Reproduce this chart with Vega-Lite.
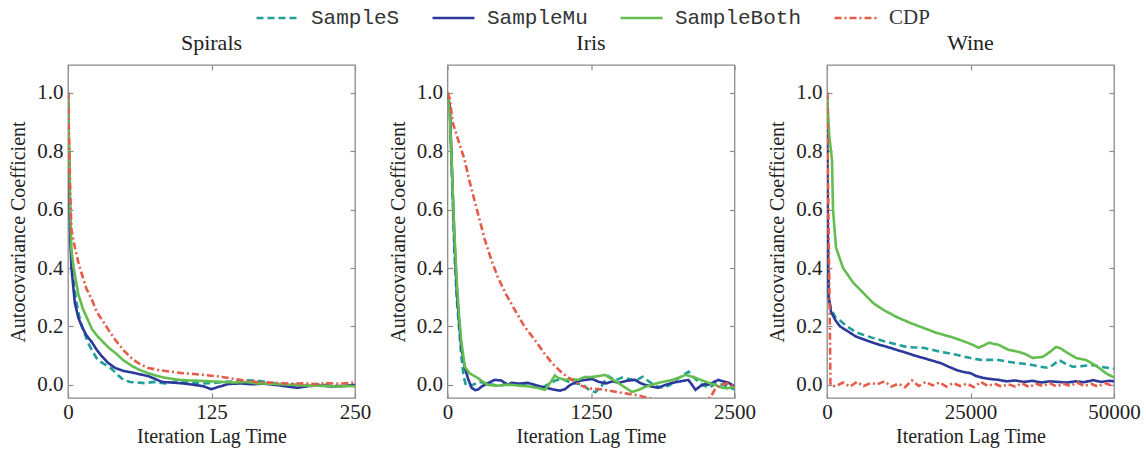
{
  "$schema": "https://vega.github.io/schema/vega-lite/v6.json",
  "padding": {"left": 8, "top": 6, "right": 5, "bottom": 5},
  "background": "white",
  "config": {
    "font": "Liberation Serif",
    "view": {"stroke": "#8c8c8c", "strokeWidth": 1.3},
    "axis": {"domain": false, "grid": false, "labelFont": "Liberation Serif", "labelFontSize": 21, "labelColor": "#222", "titleFont": "Liberation Serif", "titleFontSize": 20, "titleFontWeight": "normal", "titleColor": "#222", "tickColor": "#8c8c8c", "tickSize": -5, "tickWidth": 1.2, "labelFlush": false},
    "title": {"font": "Liberation Serif", "fontSize": 22, "fontWeight": "normal", "color": "#222", "offset": 9},
    "legend": {"labelFont": "Liberation Mono", "labelFontSize": 21, "labelColor": "#333"}
  },
  "spacing": 92.5,
  "bounds": "flush",
  "datasets": {
    "spirals": [
      {"s":"SampleS","x":0,"y":1.0},{"s":"SampleS","x":2,"y":0.5},{"s":"SampleS","x":4,"y":0.38},{"s":"SampleS","x":7,"y":0.29},{"s":"SampleS","x":10,"y":0.23},{"s":"SampleS","x":14,"y":0.18},{"s":"SampleS","x":18,"y":0.14},{"s":"SampleS","x":22,"y":0.11},{"s":"SampleS","x":26,"y":0.085},{"s":"SampleS","x":32,"y":0.07},{"s":"SampleS","x":38,"y":0.055},{"s":"SampleS","x":43,"y":0.035},{"s":"SampleS","x":48,"y":0.018},{"s":"SampleS","x":54,"y":0.01},{"s":"SampleS","x":60,"y":0.008},{"s":"SampleS","x":67,"y":0.006},{"s":"SampleS","x":75,"y":0.01},{"s":"SampleS","x":85,"y":0.005},{"s":"SampleS","x":95,"y":0.012},{"s":"SampleS","x":105,"y":0.008},{"s":"SampleS","x":115,"y":0.004},{"s":"SampleS","x":125,"y":0.006},{"s":"SampleS","x":135,"y":0.01},{"s":"SampleS","x":145,"y":0.012},{"s":"SampleS","x":155,"y":0.016},{"s":"SampleS","x":165,"y":0.014},{"s":"SampleS","x":175,"y":0.008},{"s":"SampleS","x":185,"y":0.003},{"s":"SampleS","x":195,"y":0.002},{"s":"SampleS","x":205,"y":-0.003},{"s":"SampleS","x":215,"y":0.002},{"s":"SampleS","x":225,"y":0.0},{"s":"SampleS","x":235,"y":-0.004},{"s":"SampleS","x":245,"y":-0.002},{"s":"SampleS","x":250,"y":-0.003},
      {"s":"SampleMu","x":0,"y":1.0},{"s":"SampleMu","x":2,"y":0.5},{"s":"SampleMu","x":3,"y":0.4},{"s":"SampleMu","x":6,"y":0.28},{"s":"SampleMu","x":9,"y":0.23},{"s":"SampleMu","x":12,"y":0.2},{"s":"SampleMu","x":16,"y":0.17},{"s":"SampleMu","x":21,"y":0.145},{"s":"SampleMu","x":25,"y":0.12},{"s":"SampleMu","x":29,"y":0.1},{"s":"SampleMu","x":35,"y":0.075},{"s":"SampleMu","x":41,"y":0.058},{"s":"SampleMu","x":48,"y":0.048},{"s":"SampleMu","x":56,"y":0.042},{"s":"SampleMu","x":64,"y":0.035},{"s":"SampleMu","x":70,"y":0.03},{"s":"SampleMu","x":76,"y":0.02},{"s":"SampleMu","x":82,"y":0.01},{"s":"SampleMu","x":90,"y":0.008},{"s":"SampleMu","x":100,"y":0.005},{"s":"SampleMu","x":110,"y":0.0},{"s":"SampleMu","x":118,"y":-0.005},{"s":"SampleMu","x":125,"y":-0.015},{"s":"SampleMu","x":130,"y":-0.008},{"s":"SampleMu","x":140,"y":0.003},{"s":"SampleMu","x":150,"y":0.005},{"s":"SampleMu","x":160,"y":0.002},{"s":"SampleMu","x":170,"y":0.004},{"s":"SampleMu","x":180,"y":0.0},{"s":"SampleMu","x":190,"y":-0.005},{"s":"SampleMu","x":200,"y":-0.01},{"s":"SampleMu","x":210,"y":-0.004},{"s":"SampleMu","x":220,"y":-0.002},{"s":"SampleMu","x":230,"y":-0.006},{"s":"SampleMu","x":240,"y":-0.004},{"s":"SampleMu","x":250,"y":0.0},
      {"s":"SampleBoth","x":0,"y":1.0},{"s":"SampleBoth","x":2,"y":0.6},{"s":"SampleBoth","x":3,"y":0.46},{"s":"SampleBoth","x":5,"y":0.4},{"s":"SampleBoth","x":9,"y":0.31},{"s":"SampleBoth","x":13,"y":0.26},{"s":"SampleBoth","x":17,"y":0.225},{"s":"SampleBoth","x":21,"y":0.19},{"s":"SampleBoth","x":26,"y":0.165},{"s":"SampleBoth","x":31,"y":0.145},{"s":"SampleBoth","x":36,"y":0.125},{"s":"SampleBoth","x":41,"y":0.11},{"s":"SampleBoth","x":48,"y":0.085},{"s":"SampleBoth","x":56,"y":0.064},{"s":"SampleBoth","x":63,"y":0.05},{"s":"SampleBoth","x":70,"y":0.04},{"s":"SampleBoth","x":78,"y":0.03},{"s":"SampleBoth","x":85,"y":0.024},{"s":"SampleBoth","x":95,"y":0.018},{"s":"SampleBoth","x":105,"y":0.015},{"s":"SampleBoth","x":115,"y":0.014},{"s":"SampleBoth","x":125,"y":0.012},{"s":"SampleBoth","x":135,"y":0.01},{"s":"SampleBoth","x":145,"y":0.008},{"s":"SampleBoth","x":155,"y":0.01},{"s":"SampleBoth","x":165,"y":0.005},{"s":"SampleBoth","x":175,"y":0.004},{"s":"SampleBoth","x":185,"y":0.002},{"s":"SampleBoth","x":195,"y":0.0},{"s":"SampleBoth","x":205,"y":-0.002},{"s":"SampleBoth","x":215,"y":-0.003},{"s":"SampleBoth","x":225,"y":-0.004},{"s":"SampleBoth","x":235,"y":-0.006},{"s":"SampleBoth","x":245,"y":-0.004},{"s":"SampleBoth","x":250,"y":-0.005},
      {"s":"CDP","x":0,"y":1.0},{"s":"CDP","x":2,"y":0.65},{"s":"CDP","x":3,"y":0.53},{"s":"CDP","x":6,"y":0.47},{"s":"CDP","x":9,"y":0.42},{"s":"CDP","x":12,"y":0.38},{"s":"CDP","x":16,"y":0.33},{"s":"CDP","x":21,"y":0.29},{"s":"CDP","x":25,"y":0.25},{"s":"CDP","x":30,"y":0.22},{"s":"CDP","x":35,"y":0.19},{"s":"CDP","x":41,"y":0.155},{"s":"CDP","x":48,"y":0.12},{"s":"CDP","x":56,"y":0.088},{"s":"CDP","x":63,"y":0.07},{"s":"CDP","x":70,"y":0.058},{"s":"CDP","x":80,"y":0.05},{"s":"CDP","x":90,"y":0.045},{"s":"CDP","x":100,"y":0.04},{"s":"CDP","x":110,"y":0.037},{"s":"CDP","x":119,"y":0.034},{"s":"CDP","x":128,"y":0.03},{"s":"CDP","x":134,"y":0.027},{"s":"CDP","x":145,"y":0.02},{"s":"CDP","x":155,"y":0.014},{"s":"CDP","x":165,"y":0.01},{"s":"CDP","x":175,"y":0.008},{"s":"CDP","x":185,"y":0.006},{"s":"CDP","x":195,"y":0.004},{"s":"CDP","x":205,"y":0.005},{"s":"CDP","x":215,"y":0.003},{"s":"CDP","x":225,"y":0.006},{"s":"CDP","x":235,"y":0.004},{"s":"CDP","x":245,"y":0.006},{"s":"CDP","x":250,"y":0.008}
    ],
    "iris": [
      {"s":"SampleS","x":0,"y":1.0},{"s":"SampleS","x":20,"y":0.95},{"s":"SampleS","x":40,"y":0.7},{"s":"SampleS","x":60,"y":0.45},{"s":"SampleS","x":80,"y":0.3},{"s":"SampleS","x":100,"y":0.2},{"s":"SampleS","x":120,"y":0.1},{"s":"SampleS","x":140,"y":0.03},{"s":"SampleS","x":160,"y":0.0},{"s":"SampleS","x":180,"y":-0.005},{"s":"SampleS","x":220,"y":0.0},{"s":"SampleS","x":280,"y":0.01},{"s":"SampleS","x":340,"y":0.005},{"s":"SampleS","x":400,"y":0.0},{"s":"SampleS","x":460,"y":-0.005},{"s":"SampleS","x":520,"y":0.008},{"s":"SampleS","x":580,"y":0.004},{"s":"SampleS","x":640,"y":0.0},{"s":"SampleS","x":700,"y":0.006},{"s":"SampleS","x":760,"y":-0.004},{"s":"SampleS","x":820,"y":-0.01},{"s":"SampleS","x":880,"y":0.002},{"s":"SampleS","x":940,"y":0.015},{"s":"SampleS","x":1000,"y":0.02},{"s":"SampleS","x":1060,"y":0.01},{"s":"SampleS","x":1120,"y":0.005},{"s":"SampleS","x":1180,"y":0.0},{"s":"SampleS","x":1240,"y":-0.02},{"s":"SampleS","x":1290,"y":-0.025},{"s":"SampleS","x":1340,"y":-0.005},{"s":"SampleS","x":1400,"y":0.03},{"s":"SampleS","x":1460,"y":0.015},{"s":"SampleS","x":1520,"y":0.025},{"s":"SampleS","x":1580,"y":0.02},{"s":"SampleS","x":1640,"y":0.015},{"s":"SampleS","x":1700,"y":0.028},{"s":"SampleS","x":1760,"y":0.01},{"s":"SampleS","x":1820,"y":-0.005},{"s":"SampleS","x":1880,"y":-0.01},{"s":"SampleS","x":1940,"y":0.0},{"s":"SampleS","x":2000,"y":0.02},{"s":"SampleS","x":2060,"y":0.035},{"s":"SampleS","x":2100,"y":0.045},{"s":"SampleS","x":2160,"y":0.02},{"s":"SampleS","x":2220,"y":0.0},{"s":"SampleS","x":2280,"y":-0.01},{"s":"SampleS","x":2340,"y":0.005},{"s":"SampleS","x":2400,"y":0.0},{"s":"SampleS","x":2460,"y":-0.01},{"s":"SampleS","x":2500,"y":-0.015},
      {"s":"SampleMu","x":0,"y":1.0},{"s":"SampleMu","x":20,"y":0.95},{"s":"SampleMu","x":40,"y":0.72},{"s":"SampleMu","x":60,"y":0.5},{"s":"SampleMu","x":80,"y":0.33},{"s":"SampleMu","x":100,"y":0.22},{"s":"SampleMu","x":120,"y":0.13},{"s":"SampleMu","x":150,"y":0.06},{"s":"SampleMu","x":180,"y":0.02},{"s":"SampleMu","x":210,"y":-0.01},{"s":"SampleMu","x":240,"y":-0.018},{"s":"SampleMu","x":270,"y":-0.015},{"s":"SampleMu","x":300,"y":-0.005},{"s":"SampleMu","x":350,"y":0.005},{"s":"SampleMu","x":410,"y":0.017},{"s":"SampleMu","x":470,"y":0.015},{"s":"SampleMu","x":520,"y":0.0},{"s":"SampleMu","x":560,"y":0.007},{"s":"SampleMu","x":620,"y":0.004},{"s":"SampleMu","x":700,"y":0.007},{"s":"SampleMu","x":760,"y":0.0},{"s":"SampleMu","x":822,"y":-0.007},{"s":"SampleMu","x":880,"y":-0.012},{"s":"SampleMu","x":935,"y":-0.017},{"s":"SampleMu","x":980,"y":-0.02},{"s":"SampleMu","x":1023,"y":-0.015},{"s":"SampleMu","x":1070,"y":0.0},{"s":"SampleMu","x":1110,"y":0.007},{"s":"SampleMu","x":1160,"y":0.015},{"s":"SampleMu","x":1200,"y":0.017},{"s":"SampleMu","x":1260,"y":0.02},{"s":"SampleMu","x":1320,"y":0.01},{"s":"SampleMu","x":1380,"y":0.005},{"s":"SampleMu","x":1440,"y":0.012},{"s":"SampleMu","x":1490,"y":0.007},{"s":"SampleMu","x":1560,"y":0.014},{"s":"SampleMu","x":1634,"y":0.017},{"s":"SampleMu","x":1680,"y":0.006},{"s":"SampleMu","x":1722,"y":0.0},{"s":"SampleMu","x":1780,"y":-0.006},{"s":"SampleMu","x":1836,"y":-0.01},{"s":"SampleMu","x":1900,"y":0.0},{"s":"SampleMu","x":1958,"y":0.007},{"s":"SampleMu","x":2030,"y":0.012},{"s":"SampleMu","x":2098,"y":0.017},{"s":"SampleMu","x":2130,"y":0.0},{"s":"SampleMu","x":2160,"y":-0.017},{"s":"SampleMu","x":2200,"y":-0.005},{"s":"SampleMu","x":2240,"y":0.003},{"s":"SampleMu","x":2273,"y":0.0},{"s":"SampleMu","x":2320,"y":0.01},{"s":"SampleMu","x":2360,"y":0.017},{"s":"SampleMu","x":2400,"y":0.012},{"s":"SampleMu","x":2447,"y":0.007},{"s":"SampleMu","x":2500,"y":-0.005},
      {"s":"SampleBoth","x":0,"y":1.0},{"s":"SampleBoth","x":20,"y":0.93},{"s":"SampleBoth","x":40,"y":0.72},{"s":"SampleBoth","x":60,"y":0.52},{"s":"SampleBoth","x":80,"y":0.36},{"s":"SampleBoth","x":100,"y":0.24},{"s":"SampleBoth","x":120,"y":0.15},{"s":"SampleBoth","x":150,"y":0.062},{"s":"SampleBoth","x":192,"y":0.04},{"s":"SampleBoth","x":262,"y":0.024},{"s":"SampleBoth","x":310,"y":0.01},{"s":"SampleBoth","x":350,"y":0.0},{"s":"SampleBoth","x":437,"y":-0.003},{"s":"SampleBoth","x":500,"y":0.0},{"s":"SampleBoth","x":559,"y":0.0},{"s":"SampleBoth","x":630,"y":-0.003},{"s":"SampleBoth","x":700,"y":-0.005},{"s":"SampleBoth","x":780,"y":-0.01},{"s":"SampleBoth","x":848,"y":-0.017},{"s":"SampleBoth","x":900,"y":0.01},{"s":"SampleBoth","x":935,"y":0.032},{"s":"SampleBoth","x":962,"y":0.024},{"s":"SampleBoth","x":1023,"y":0.017},{"s":"SampleBoth","x":1080,"y":0.02},{"s":"SampleBoth","x":1136,"y":0.017},{"s":"SampleBoth","x":1197,"y":0.027},{"s":"SampleBoth","x":1259,"y":0.027},{"s":"SampleBoth","x":1311,"y":0.03},{"s":"SampleBoth","x":1372,"y":0.034},{"s":"SampleBoth","x":1430,"y":0.02},{"s":"SampleBoth","x":1486,"y":0.007},{"s":"SampleBoth","x":1550,"y":-0.01},{"s":"SampleBoth","x":1608,"y":-0.024},{"s":"SampleBoth","x":1660,"y":-0.018},{"s":"SampleBoth","x":1722,"y":-0.007},{"s":"SampleBoth","x":1780,"y":0.0},{"s":"SampleBoth","x":1836,"y":0.007},{"s":"SampleBoth","x":1900,"y":0.012},{"s":"SampleBoth","x":1958,"y":0.017},{"s":"SampleBoth","x":2020,"y":0.025},{"s":"SampleBoth","x":2072,"y":0.034},{"s":"SampleBoth","x":2110,"y":0.03},{"s":"SampleBoth","x":2159,"y":0.024},{"s":"SampleBoth","x":2220,"y":0.015},{"s":"SampleBoth","x":2273,"y":0.007},{"s":"SampleBoth","x":2330,"y":0.0},{"s":"SampleBoth","x":2395,"y":-0.01},{"s":"SampleBoth","x":2440,"y":-0.012},{"s":"SampleBoth","x":2482,"y":-0.007},{"s":"SampleBoth","x":2500,"y":-0.01},
      {"s":"CDP","x":0,"y":1.0},{"s":"CDP","x":20,"y":0.98},{"s":"CDP","x":44,"y":0.9},{"s":"CDP","x":100,"y":0.83},{"s":"CDP","x":149,"y":0.77},{"s":"CDP","x":190,"y":0.7},{"s":"CDP","x":236,"y":0.63},{"s":"CDP","x":280,"y":0.565},{"s":"CDP","x":323,"y":0.5},{"s":"CDP","x":380,"y":0.43},{"s":"CDP","x":437,"y":0.37},{"s":"CDP","x":510,"y":0.31},{"s":"CDP","x":586,"y":0.257},{"s":"CDP","x":670,"y":0.2},{"s":"CDP","x":760,"y":0.154},{"s":"CDP","x":840,"y":0.11},{"s":"CDP","x":909,"y":0.075},{"s":"CDP","x":1000,"y":0.04},{"s":"CDP","x":1084,"y":0.017},{"s":"CDP","x":1150,"y":0.0},{"s":"CDP","x":1224,"y":-0.012},{"s":"CDP","x":1330,"y":-0.015},{"s":"CDP","x":1500,"y":-0.026},{"s":"CDP","x":1660,"y":-0.036},{"s":"CDP","x":1800,"y":-0.05},{"s":"CDP","x":2000,"y":-0.06},{"s":"CDP","x":2200,"y":-0.055},{"s":"CDP","x":2290,"y":-0.044},{"s":"CDP","x":2334,"y":-0.012},{"s":"CDP","x":2380,"y":0.0},{"s":"CDP","x":2440,"y":0.005},{"s":"CDP","x":2500,"y":-0.005}
    ],
    "wine": [
      {"s":"SampleS","x":0,"y":1.0},{"s":"SampleS","x":150,"y":0.5},{"s":"SampleS","x":300,"y":0.3},{"s":"SampleS","x":700,"y":0.26},{"s":"SampleS","x":1500,"y":0.23},{"s":"SampleS","x":2270,"y":0.22},{"s":"SampleS","x":3500,"y":0.2},{"s":"SampleS","x":5070,"y":0.18},{"s":"SampleS","x":6500,"y":0.17},{"s":"SampleS","x":8050,"y":0.16},{"s":"SampleS","x":9500,"y":0.152},{"s":"SampleS","x":11000,"y":0.144},{"s":"SampleS","x":12400,"y":0.137},{"s":"SampleS","x":13800,"y":0.13},{"s":"SampleS","x":15300,"y":0.128},{"s":"SampleS","x":16800,"y":0.127},{"s":"SampleS","x":18300,"y":0.12},{"s":"SampleS","x":19750,"y":0.113},{"s":"SampleS","x":21200,"y":0.108},{"s":"SampleS","x":22550,"y":0.103},{"s":"SampleS","x":23800,"y":0.097},{"s":"SampleS","x":25000,"y":0.092},{"s":"SampleS","x":26000,"y":0.088},{"s":"SampleS","x":27100,"y":0.085},{"s":"SampleS","x":28500,"y":0.086},{"s":"SampleS","x":29900,"y":0.085},{"s":"SampleS","x":31300,"y":0.08},{"s":"SampleS","x":32900,"y":0.075},{"s":"SampleS","x":34300,"y":0.072},{"s":"SampleS","x":35800,"y":0.068},{"s":"SampleS","x":37200,"y":0.062},{"s":"SampleS","x":38600,"y":0.058},{"s":"SampleS","x":39500,"y":0.07},{"s":"SampleS","x":40400,"y":0.085},{"s":"SampleS","x":41600,"y":0.072},{"s":"SampleS","x":42800,"y":0.062},{"s":"SampleS","x":44300,"y":0.064},{"s":"SampleS","x":46300,"y":0.068},{"s":"SampleS","x":47700,"y":0.062},{"s":"SampleS","x":49100,"y":0.058},{"s":"SampleS","x":50000,"y":0.055},
      {"s":"SampleMu","x":0,"y":1.0},{"s":"SampleMu","x":150,"y":0.5},{"s":"SampleMu","x":300,"y":0.3},{"s":"SampleMu","x":700,"y":0.25},{"s":"SampleMu","x":1500,"y":0.22},{"s":"SampleMu","x":2270,"y":0.2},{"s":"SampleMu","x":3500,"y":0.185},{"s":"SampleMu","x":5070,"y":0.165},{"s":"SampleMu","x":6500,"y":0.155},{"s":"SampleMu","x":8050,"y":0.144},{"s":"SampleMu","x":9500,"y":0.135},{"s":"SampleMu","x":11000,"y":0.127},{"s":"SampleMu","x":12400,"y":0.118},{"s":"SampleMu","x":13800,"y":0.11},{"s":"SampleMu","x":15300,"y":0.1},{"s":"SampleMu","x":16800,"y":0.092},{"s":"SampleMu","x":18300,"y":0.083},{"s":"SampleMu","x":19750,"y":0.075},{"s":"SampleMu","x":21200,"y":0.062},{"s":"SampleMu","x":22550,"y":0.051},{"s":"SampleMu","x":23800,"y":0.044},{"s":"SampleMu","x":25000,"y":0.04},{"s":"SampleMu","x":26000,"y":0.03},{"s":"SampleMu","x":27100,"y":0.024},{"s":"SampleMu","x":28500,"y":0.02},{"s":"SampleMu","x":29900,"y":0.017},{"s":"SampleMu","x":31300,"y":0.012},{"s":"SampleMu","x":32800,"y":0.015},{"s":"SampleMu","x":34300,"y":0.01},{"s":"SampleMu","x":35800,"y":0.014},{"s":"SampleMu","x":37300,"y":0.008},{"s":"SampleMu","x":38800,"y":0.012},{"s":"SampleMu","x":40300,"y":0.01},{"s":"SampleMu","x":41800,"y":0.008},{"s":"SampleMu","x":43300,"y":0.012},{"s":"SampleMu","x":44800,"y":0.009},{"s":"SampleMu","x":46300,"y":0.016},{"s":"SampleMu","x":47800,"y":0.01},{"s":"SampleMu","x":49200,"y":0.014},{"s":"SampleMu","x":50000,"y":0.012},
      {"s":"SampleBoth","x":0,"y":1.0},{"s":"SampleBoth","x":400,"y":0.85},{"s":"SampleBoth","x":870,"y":0.77},{"s":"SampleBoth","x":1050,"y":0.6},{"s":"SampleBoth","x":1570,"y":0.47},{"s":"SampleBoth","x":2800,"y":0.4},{"s":"SampleBoth","x":4550,"y":0.35},{"s":"SampleBoth","x":6300,"y":0.315},{"s":"SampleBoth","x":8050,"y":0.28},{"s":"SampleBoth","x":9800,"y":0.257},{"s":"SampleBoth","x":12060,"y":0.233},{"s":"SampleBoth","x":14500,"y":0.212},{"s":"SampleBoth","x":16800,"y":0.195},{"s":"SampleBoth","x":19050,"y":0.178},{"s":"SampleBoth","x":21500,"y":0.165},{"s":"SampleBoth","x":23000,"y":0.155},{"s":"SampleBoth","x":24100,"y":0.147},{"s":"SampleBoth","x":25400,"y":0.137},{"s":"SampleBoth","x":26400,"y":0.127},{"s":"SampleBoth","x":27300,"y":0.135},{"s":"SampleBoth","x":28200,"y":0.144},{"s":"SampleBoth","x":29900,"y":0.137},{"s":"SampleBoth","x":31600,"y":0.12},{"s":"SampleBoth","x":33400,"y":0.113},{"s":"SampleBoth","x":34600,"y":0.105},{"s":"SampleBoth","x":35800,"y":0.092},{"s":"SampleBoth","x":37600,"y":0.096},{"s":"SampleBoth","x":38800,"y":0.112},{"s":"SampleBoth","x":39900,"y":0.13},{"s":"SampleBoth","x":40700,"y":0.125},{"s":"SampleBoth","x":41600,"y":0.113},{"s":"SampleBoth","x":43400,"y":0.092},{"s":"SampleBoth","x":45100,"y":0.085},{"s":"SampleBoth","x":46300,"y":0.072},{"s":"SampleBoth","x":47400,"y":0.058},{"s":"SampleBoth","x":48600,"y":0.04},{"s":"SampleBoth","x":49800,"y":0.027},{"s":"SampleBoth","x":50000,"y":0.025},
      {"s":"CDP","x":0,"y":1.0},{"s":"CDP","x":300,"y":0.5},{"s":"CDP","x":500,"y":0.2},{"s":"CDP","x":600,"y":0.0},{"s":"CDP","x":1500,"y":-0.005},{"s":"CDP","x":2800,"y":0.008},{"s":"CDP","x":4000,"y":-0.006},{"s":"CDP","x":5200,"y":0.01},{"s":"CDP","x":6400,"y":-0.004},{"s":"CDP","x":7600,"y":0.006},{"s":"CDP","x":8800,"y":0.002},{"s":"CDP","x":10000,"y":0.012},{"s":"CDP","x":11200,"y":-0.006},{"s":"CDP","x":12400,"y":0.004},{"s":"CDP","x":13600,"y":-0.008},{"s":"CDP","x":14800,"y":0.015},{"s":"CDP","x":16000,"y":-0.004},{"s":"CDP","x":17200,"y":0.01},{"s":"CDP","x":18400,"y":-0.002},{"s":"CDP","x":19600,"y":0.008},{"s":"CDP","x":20800,"y":-0.006},{"s":"CDP","x":22000,"y":0.006},{"s":"CDP","x":23200,"y":-0.004},{"s":"CDP","x":24400,"y":0.004},{"s":"CDP","x":25600,"y":-0.008},{"s":"CDP","x":26800,"y":0.01},{"s":"CDP","x":28000,"y":-0.004},{"s":"CDP","x":29200,"y":0.004},{"s":"CDP","x":30400,"y":-0.006},{"s":"CDP","x":31600,"y":0.002},{"s":"CDP","x":32800,"y":-0.006},{"s":"CDP","x":34000,"y":0.006},{"s":"CDP","x":35200,"y":-0.008},{"s":"CDP","x":36400,"y":0.004},{"s":"CDP","x":37600,"y":-0.004},{"s":"CDP","x":38800,"y":0.006},{"s":"CDP","x":40000,"y":-0.006},{"s":"CDP","x":41200,"y":0.004},{"s":"CDP","x":42400,"y":-0.004},{"s":"CDP","x":43600,"y":0.008},{"s":"CDP","x":44800,"y":-0.004},{"s":"CDP","x":46000,"y":0.004},{"s":"CDP","x":47200,"y":-0.006},{"s":"CDP","x":48400,"y":0.006},{"s":"CDP","x":49600,"y":-0.002},{"s":"CDP","x":50000,"y":0.0}
    ]
  },
  "hconcat": [
    {
      "width": 287, "height": 333,
      "title": "Spirals",
      "data": {"name": "spirals"},
      "layer": [
        {
          "mark": {"type": "line", "clip": true},
          "encoding": {
            "x": {"field": "x", "type": "quantitative", "scale": {"domain": [0, 250], "nice": false}, "axis": {"values": [0, 125, 250], "format": "d", "title": "Iteration Lag Time", "labelFont": "Liberation Serif", "labelPadding": 8, "titlePadding": 4}},
            "y": {"field": "y", "type": "quantitative", "scale": {"domain": [-0.045, 1.095], "nice": false, "zero": false}, "axis": {"values": [0, 0.2, 0.4, 0.6, 0.8, 1.0], "format": ".1f", "title": "Autocovariance Coefficient", "labelFont": "Liberation Serif", "labelPadding": 10, "titlePadding": 8}},
            "color": {"field": "s", "type": "nominal", "scale": {"domain": ["SampleS", "SampleMu", "SampleBoth", "CDP"], "range": ["#1f9e9a", "#2b3a9a", "#63bd4f", "#e65a48"]}, "legend": {"orient": "none", "direction": "horizontal", "legendX": 187, "legendY": -59, "title": null, "symbolType": "M-1,0H3", "symbolSize": 441, "symbolStrokeWidth": 2.5, "labelOffset": 32, "columnPadding": 27, "encode": {"labels": {"update": {"font": {"signal": "datum.label === 'CDP' ? 'Liberation Serif' : 'Liberation Mono'"}}}, "symbols": {"update": {"strokeWidth": {"signal": "datum.value === 'SampleBoth' || datum.value === 'CDP' ? 1.5 : 3"}}}}}},
            "strokeDash": {"field": "s", "type": "nominal", "scale": {"domain": ["SampleS", "SampleMu", "SampleBoth", "CDP"], "range": [[7, 4], [1, 0], [1, 0], [7, 3, 2, 3]]}, "legend": {"orient": "none", "direction": "horizontal", "legendX": 187, "legendY": -59, "title": null, "symbolType": "M-1,0H3", "symbolSize": 441, "symbolStrokeWidth": 2.5, "labelOffset": 32, "columnPadding": 27, "encode": {"labels": {"update": {"font": {"signal": "datum.label === 'CDP' ? 'Liberation Serif' : 'Liberation Mono'"}}}, "symbols": {"update": {"strokeWidth": {"signal": "datum.value === 'SampleBoth' || datum.value === 'CDP' ? 1.5 : 3"}}}}}},
            "strokeWidth": {"field": "s", "type": "nominal", "scale": {"domain": ["SampleS", "SampleMu", "SampleBoth", "CDP"], "range": [2.6, 2.6, 4.5, 1.3]}, "legend": null}
          }
        },
        {
          "mark": {"type": "line", "opacity": 0},
          "encoding": {
            "x": {"field": "x", "type": "quantitative", "axis": {"orient": "top", "values": [0, 125, 250], "labels": false, "title": null}},
            "y": {"field": "y", "type": "quantitative", "axis": {"orient": "right", "values": [0, 0.2, 0.4, 0.6, 0.8, 1.0], "labels": false, "title": null}}
          }
        }
      ],
      "resolve": {"axis": {"x": "independent", "y": "independent"}}
    },
    {
      "width": 287, "height": 333,
      "title": "Iris",
      "data": {"name": "iris"},
      "layer": [
        {
          "mark": {"type": "line", "clip": true},
          "encoding": {
            "x": {"field": "x", "type": "quantitative", "scale": {"domain": [0, 2500], "nice": false}, "axis": {"values": [0, 1250, 2500], "format": "d", "title": "Iteration Lag Time", "labelFont": "Liberation Serif", "labelPadding": 8, "titlePadding": 4}},
            "y": {"field": "y", "type": "quantitative", "scale": {"domain": [-0.045, 1.095], "nice": false, "zero": false}, "axis": {"values": [0, 0.2, 0.4, 0.6, 0.8, 1.0], "format": ".1f", "title": "Autocovariance Coefficient", "labelFont": "Liberation Serif", "labelPadding": 10, "titlePadding": 8}},
            "color": {"field": "s", "type": "nominal", "scale": {"domain": ["SampleS", "SampleMu", "SampleBoth", "CDP"], "range": ["#1f9e9a", "#2b3a9a", "#63bd4f", "#e65a48"]}, "legend": {"orient": "none", "direction": "horizontal", "legendX": 187, "legendY": -59, "title": null, "symbolType": "M-1,0H3", "symbolSize": 441, "symbolStrokeWidth": 2.5, "labelOffset": 32, "columnPadding": 27, "encode": {"labels": {"update": {"font": {"signal": "datum.label === 'CDP' ? 'Liberation Serif' : 'Liberation Mono'"}}}, "symbols": {"update": {"strokeWidth": {"signal": "datum.value === 'SampleBoth' || datum.value === 'CDP' ? 1.5 : 3"}}}}}},
            "strokeDash": {"field": "s", "type": "nominal", "scale": {"domain": ["SampleS", "SampleMu", "SampleBoth", "CDP"], "range": [[7, 4], [1, 0], [1, 0], [7, 3, 2, 3]]}, "legend": {"orient": "none", "direction": "horizontal", "legendX": 187, "legendY": -59, "title": null, "symbolType": "M-1,0H3", "symbolSize": 441, "symbolStrokeWidth": 2.5, "labelOffset": 32, "columnPadding": 27, "encode": {"labels": {"update": {"font": {"signal": "datum.label === 'CDP' ? 'Liberation Serif' : 'Liberation Mono'"}}}, "symbols": {"update": {"strokeWidth": {"signal": "datum.value === 'SampleBoth' || datum.value === 'CDP' ? 1.5 : 3"}}}}}},
            "strokeWidth": {"field": "s", "type": "nominal", "scale": {"domain": ["SampleS", "SampleMu", "SampleBoth", "CDP"], "range": [2.6, 2.6, 4.5, 1.3]}, "legend": null}
          }
        },
        {
          "mark": {"type": "line", "opacity": 0},
          "encoding": {
            "x": {"field": "x", "type": "quantitative", "axis": {"orient": "top", "values": [0, 1250, 2500], "labels": false, "title": null}},
            "y": {"field": "y", "type": "quantitative", "axis": {"orient": "right", "values": [0, 0.2, 0.4, 0.6, 0.8, 1.0], "labels": false, "title": null}}
          }
        }
      ],
      "resolve": {"axis": {"x": "independent", "y": "independent"}}
    },
    {
      "width": 287, "height": 333,
      "title": "Wine",
      "data": {"name": "wine"},
      "layer": [
        {
          "mark": {"type": "line", "clip": true},
          "encoding": {
            "x": {"field": "x", "type": "quantitative", "scale": {"domain": [0, 50000], "nice": false}, "axis": {"values": [0, 25000, 50000], "format": "d", "title": "Iteration Lag Time", "labelFont": "Liberation Serif", "labelPadding": 8, "titlePadding": 4}},
            "y": {"field": "y", "type": "quantitative", "scale": {"domain": [-0.045, 1.095], "nice": false, "zero": false}, "axis": {"values": [0, 0.2, 0.4, 0.6, 0.8, 1.0], "format": ".1f", "title": "Autocovariance Coefficient", "labelFont": "Liberation Serif", "labelPadding": 10, "titlePadding": 8}},
            "color": {"field": "s", "type": "nominal", "scale": {"domain": ["SampleS", "SampleMu", "SampleBoth", "CDP"], "range": ["#1f9e9a", "#2b3a9a", "#63bd4f", "#e65a48"]}, "legend": {"orient": "none", "direction": "horizontal", "legendX": 187, "legendY": -59, "title": null, "symbolType": "M-1,0H3", "symbolSize": 441, "symbolStrokeWidth": 2.5, "labelOffset": 32, "columnPadding": 27, "encode": {"labels": {"update": {"font": {"signal": "datum.label === 'CDP' ? 'Liberation Serif' : 'Liberation Mono'"}}}, "symbols": {"update": {"strokeWidth": {"signal": "datum.value === 'SampleBoth' || datum.value === 'CDP' ? 1.5 : 3"}}}}}},
            "strokeDash": {"field": "s", "type": "nominal", "scale": {"domain": ["SampleS", "SampleMu", "SampleBoth", "CDP"], "range": [[7, 4], [1, 0], [1, 0], [7, 3, 2, 3]]}, "legend": {"orient": "none", "direction": "horizontal", "legendX": 187, "legendY": -59, "title": null, "symbolType": "M-1,0H3", "symbolSize": 441, "symbolStrokeWidth": 2.5, "labelOffset": 32, "columnPadding": 27, "encode": {"labels": {"update": {"font": {"signal": "datum.label === 'CDP' ? 'Liberation Serif' : 'Liberation Mono'"}}}, "symbols": {"update": {"strokeWidth": {"signal": "datum.value === 'SampleBoth' || datum.value === 'CDP' ? 1.5 : 3"}}}}}},
            "strokeWidth": {"field": "s", "type": "nominal", "scale": {"domain": ["SampleS", "SampleMu", "SampleBoth", "CDP"], "range": [2.6, 2.6, 4.5, 1.3]}, "legend": null}
          }
        },
        {
          "mark": {"type": "line", "opacity": 0},
          "encoding": {
            "x": {"field": "x", "type": "quantitative", "axis": {"orient": "top", "values": [0, 25000, 50000], "labels": false, "title": null}},
            "y": {"field": "y", "type": "quantitative", "axis": {"orient": "right", "values": [0, 0.2, 0.4, 0.6, 0.8, 1.0], "labels": false, "title": null}}
          }
        }
      ],
      "resolve": {"axis": {"x": "independent", "y": "independent"}}
    }
  ]
}
